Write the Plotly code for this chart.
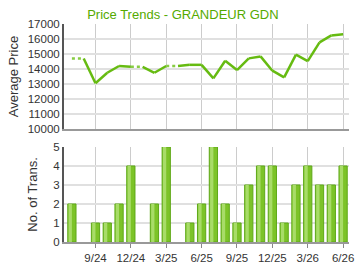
import plotly.graph_objects as go

months = ["7/24","8/24","9/24","10/24","11/24","12/24","1/25","2/25","3/25","4/25","5/25","6/25",
          "7/25","8/25","9/25","10/25","11/25","12/25","1/26","2/26","3/26","4/26","5/26","6/26"]
# average price (None = no transaction that month)
price = [14700, None, 13050, 13750, 14200, 14150, None, 13750, 14200, None, 14280, 14280,
         13380, 14550, 13930, 14710, 14840, 13890, 13440, 14960, 14530, 15780, 16240, 16310]
trans = [2, 0, 1, 1, 2, 4, 0, 2, 5, 0, 1, 2, 5, 2, 1, 3, 4, 4, 1, 3, 4, 3, 3, 4]
tick_labels = ["9/24", "12/24", "3/25", "6/25", "9/25", "12/25", "3/26", "6/26"]

idx = list(range(len(months)))
tick_idx = [months.index(t) for t in tick_labels]

# carry forward missing prices
filled = []
last = None
for p in price:
    if p is not None:
        last = p
    filled.append(last)

sx, sy, dx, dy = [], [], [], []
for i in range(len(idx) - 1):
    if filled[i] is None:
        continue
    if price[i + 1] is None:
        dx += [idx[i], idx[i + 1], None]
        dy += [filled[i], filled[i + 1], None]
    else:
        sx += [idx[i], idx[i + 1], None]
        sy += [filled[i], filled[i + 1], None]

bar_y = [t if t > 0 else None for t in trans]

green = "#66bb11"
font = "Liberation Sans, Arial, sans-serif"

fig = go.Figure()
fig.add_trace(go.Scatter(x=sx, y=sy, mode="lines", line=dict(color=green, width=2.5),
                         xaxis="x", yaxis="y", hoverinfo="skip"))
fig.add_trace(go.Scatter(x=dx, y=dy, mode="lines", line=dict(color="#88cc44", width=2.5, dash="dot"),
                         xaxis="x", yaxis="y", hoverinfo="skip"))
fig.add_trace(go.Bar(x=idx, y=bar_y, width=0.7, marker=dict(color="#7cc328", line=dict(color="#5ea818", width=1)),
                     xaxis="x2", yaxis="y2"))
fig.add_trace(go.Bar(x=idx, y=bar_y, width=0.28, offset=-0.28, marker=dict(color="#a8dc68", line=dict(width=0)),
                     xaxis="x2", yaxis="y2"))

xr = [-0.67, 23.5]
fig.update_layout(
    width=360, height=270, margin=dict(l=64, r=6, t=24, b=26),
    paper_bgcolor="white", plot_bgcolor="white", showlegend=False,
    barmode="overlay",
    font=dict(family=font, size=12, color="#333333"),
    title=dict(text="Price Trends - GRANDEUR GDN", x=0.508, xanchor="center", y=0.945, yanchor="middle",
               font=dict(family=font, size=13, color="#55aa00")),
    xaxis=dict(domain=[0, 1], range=xr, tickvals=tick_idx, showticklabels=False,
               showgrid=True, gridcolor="#cccccc", gridwidth=1, zeroline=False,
               showline=True, linecolor="#999999", linewidth=2, anchor="y", ticks=""),
    yaxis=dict(domain=[0.518, 1], range=[10000, 17000], dtick=1000, tickformat="d", showgrid=True,
               gridcolor="#e0e0e0", gridwidth=2, zeroline=False, showline=True,
               linecolor="#555555", linewidth=2, ticks="", tickfont=dict(size=11.5, color="#333333"),
               title=dict(text="Average Price", font=dict(size=13, color="#333333"), standoff=6)),
    xaxis2=dict(domain=[0, 1], range=xr, tickvals=tick_idx, ticktext=tick_labels,
                showgrid=True, gridcolor="#cccccc", gridwidth=1, zeroline=False,
                showline=True, linecolor="#999999", linewidth=2, anchor="y2",
                ticklabeloverflow="allow",
                ticks="outside", ticklen=4, tickcolor="#888888", tickfont=dict(size=11.5, color="#333333")),
    yaxis2=dict(domain=[0, 0.436], range=[0, 5], dtick=1, showgrid=True,
                gridcolor="#e0e0e0", gridwidth=2, zeroline=False, showline=True,
                linecolor="#555555", linewidth=2, ticks="", tickfont=dict(size=11.5, color="#333333"),
                title=dict(text="No. of Trans.", font=dict(size=13, color="#333333"), standoff=13)),
)
fig.write_html("out.html")
